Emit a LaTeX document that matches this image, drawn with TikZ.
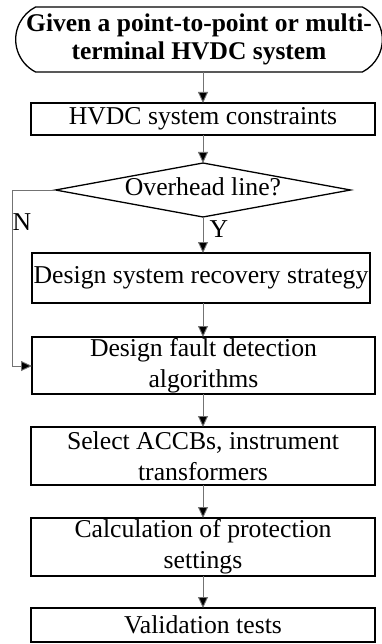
\documentclass[tikz,border=0pt]{standalone}
\usepackage{fontspec}
\setmainfont{Liberation Serif}
\usetikzlibrary{arrows.meta,shapes.geometric,shapes.misc}
\begin{document}
\begin{tikzpicture}[x=1pt,y=-1pt,
  txt/.style={font=\fontsize{25.7}{31}\selectfont, align=center},
  stepbox/.style={draw, line width=1.3pt, inner sep=0pt, outer sep=0pt, txt},
  flow/.style={draw=black!55, line width=0.9pt, -{Triangle[width=10pt,length=11pt,fill=black]}},
]
\useasboundingbox (0,0) rectangle (382,644);

% start terminator
\node[rounded rectangle, rounded rectangle arc length=126, draw, line width=1.3pt,
      inner sep=0pt, outer sep=0pt, minimum width=363pt, minimum height=65pt,
      font=\bfseries\fontsize{25.5}{28}\selectfont, align=center]
  (start) at (199,39.5) {Given a point-to-point or multi-\\terminal HVDC system};

\node[stepbox, minimum width=344pt, minimum height=32pt] (cons) at (203,119) {HVDC system constraints};

\node[diamond, draw, line width=1.3pt, inner sep=0pt, outer sep=0pt, aspect=5.46,
      minimum width=295pt, minimum height=54pt, txt] (ohl) at (203,190) {};
\node[txt] at (203,187) {Overhead line?};

\node[stepbox, minimum width=338pt, minimum height=50pt] (rec) at (201,278) {Design system recovery strategy};

\node[stepbox, minimum width=343pt, minimum height=57pt] (det) at (203.5,365.5) {Design fault detection\\algorithms};

\node[stepbox, minimum width=344pt, minimum height=58pt] (sel) at (203,456) {Select ACCBs, instrument\\transformers};

\node[stepbox, minimum width=344pt, minimum height=58pt] (calc) at (203,547) {Calculation of protection\\settings};

\node[stepbox, minimum width=344pt, minimum height=34pt] (val) at (203,625) {Validation tests};

% connectors
\coordinate (nturn) at (12,190);
\coordinate (nlow) at (12,366);
\draw[flow] (start.south -| cons.north) -- (cons.north);
\draw[flow] (cons.south) -- (ohl.north);
\draw[flow] (ohl.south) -- (ohl.south |- rec.north);
\draw[flow] (ohl.south |- rec.south) -- (det.north -| ohl.south);
\draw[flow] (ohl.west) -- (nturn) -- (nlow) -- (nlow -| det.west);
\draw[flow] (det.south -| ohl.south) -- (sel.north -| ohl.south);
\draw[flow] (sel.south -| ohl.south) -- (calc.north -| ohl.south);
\draw[flow] (calc.south -| ohl.south) -- (val.north -| ohl.south);

% branch labels
\node[txt] (lblN) at (22,222) {N};
\node[txt] (lblY) at (219,229) {Y};
\end{tikzpicture}
\end{document}
